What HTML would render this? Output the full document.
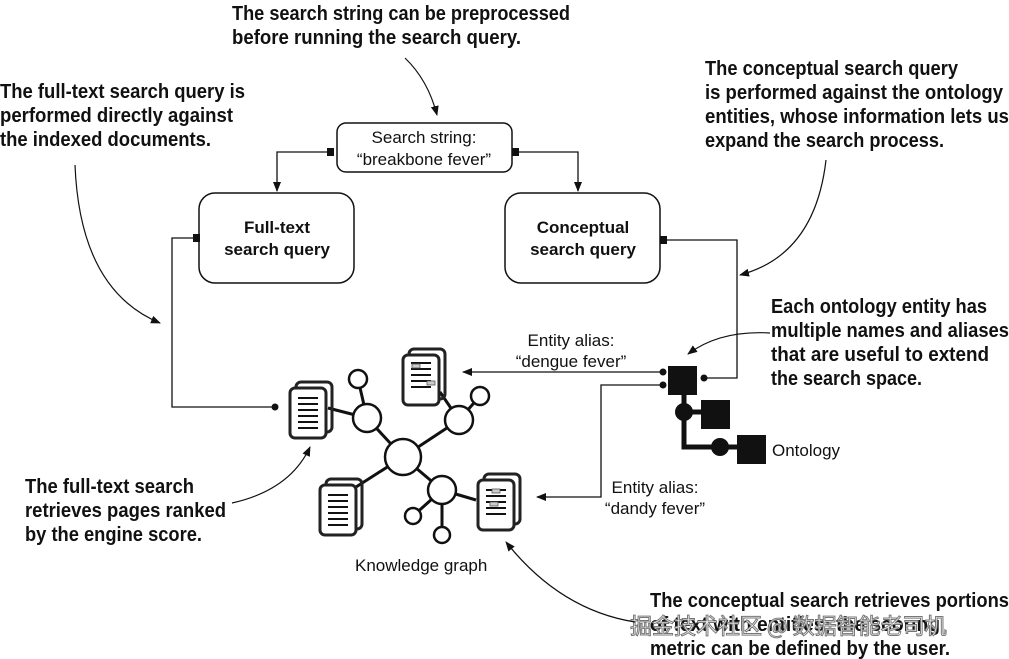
<!DOCTYPE html>
<html><head><meta charset="utf-8"><style>
html,body{margin:0;padding:0;background:#fff;width:1009px;height:659px;overflow:hidden}
svg{display:block}
.a{font-family:"Liberation Sans",sans-serif;font-weight:bold;font-size:20px;fill:#111}
.n{font-family:"Liberation Sans",sans-serif;font-size:17px;fill:#111}
.b{font-family:"Liberation Sans",sans-serif;font-size:17px;font-weight:bold;fill:#111}
</style></head><body>
<svg width="1009" height="659" viewBox="0 0 1009 659" xmlns="http://www.w3.org/2000/svg">
<defs>
<marker id="ar" markerWidth="10" markerHeight="8" refX="9" refY="4" orient="auto" markerUnits="userSpaceOnUse"><path d="M0,0 L10,4 L0,8 Z" fill="#111"/></marker>
<g id="doc"><rect x="6" y="-6" width="36" height="50" rx="5" fill="none" stroke="#222" stroke-width="3"/><rect x="0" y="0" width="36" height="50" rx="5" fill="#fff" stroke="#222" stroke-width="3"/></g>
</defs>
<!-- annotations -->
<g class="a">
<text x="232" y="20" textLength="338" lengthAdjust="spacingAndGlyphs">The search string can be preprocessed</text>
<text x="232" y="44" textLength="289" lengthAdjust="spacingAndGlyphs">before running the search query.</text>
<text x="0" y="98" textLength="245" lengthAdjust="spacingAndGlyphs">The full-text search query is</text>
<text x="0" y="122" textLength="233" lengthAdjust="spacingAndGlyphs">performed directly against</text>
<text x="0" y="146" textLength="211" lengthAdjust="spacingAndGlyphs">the indexed documents.</text>
<text x="705" y="75" textLength="253" lengthAdjust="spacingAndGlyphs">The conceptual search query</text>
<text x="705" y="99" textLength="298" lengthAdjust="spacingAndGlyphs">is performed against the ontology</text>
<text x="705" y="123" textLength="304" lengthAdjust="spacingAndGlyphs">entities, whose information lets us</text>
<text x="705" y="147" textLength="239" lengthAdjust="spacingAndGlyphs">expand the search process.</text>
<text x="771" y="313" textLength="216" lengthAdjust="spacingAndGlyphs">Each ontology entity has</text>
<text x="771" y="337" textLength="238" lengthAdjust="spacingAndGlyphs">multiple names and aliases</text>
<text x="771" y="361" textLength="218" lengthAdjust="spacingAndGlyphs">that are useful to extend</text>
<text x="771" y="385" textLength="151" lengthAdjust="spacingAndGlyphs">the search space.</text>
<text x="25" y="493" textLength="169" lengthAdjust="spacingAndGlyphs">The full-text search</text>
<text x="25" y="517" textLength="201" lengthAdjust="spacingAndGlyphs">retrieves pages ranked</text>
<text x="25" y="541" textLength="177" lengthAdjust="spacingAndGlyphs">by the engine score.</text>
<text x="650" y="607" textLength="359" lengthAdjust="spacingAndGlyphs">The conceptual search retrieves portions</text>
<text x="650" y="631" textLength="290" lengthAdjust="spacingAndGlyphs">of text with entities; the scoring</text>
<text x="650" y="655" textLength="300" lengthAdjust="spacingAndGlyphs">metric can be defined by the user.</text>
</g>
<text x="630" y="634" style="font-family:'Noto Sans CJK SC',sans-serif;font-size:22px;fill:#fff;stroke:#777;stroke-width:1">掘金技术社区 @ 数据智能老司机</text>
<!-- curved arrows -->
<g fill="none" stroke="#111" stroke-width="1.2">
<path d="M405,58 Q428,80 437,115" marker-end="url(#ar)"/>
<path d="M75,165 Q80,290 160,323" marker-end="url(#ar)"/>
<path d="M826,160 Q815,255 740,275" marker-end="url(#ar)"/>
<path d="M770,333 Q720,330 688,354" marker-end="url(#ar)"/>
<path d="M232,503 Q290,490 310,447" marker-end="url(#ar)"/>
<path d="M635,622 Q560,610 506,542" marker-end="url(#ar)"/>
</g>
<!-- boxes -->
<rect x="337" y="123" width="175" height="49" rx="9" fill="#fff" stroke="#111" stroke-width="1.5"/>
<text class="n" x="424" y="143" text-anchor="middle">Search string:</text>
<text class="n" x="424" y="165" text-anchor="middle">“breakbone fever”</text>
<rect x="199" y="193" width="155" height="90" rx="16" fill="#fff" stroke="#111" stroke-width="1.5"/>
<text class="b" x="277" y="233" text-anchor="middle">Full-text</text>
<text class="b" x="277" y="255" text-anchor="middle">search query</text>
<rect x="505" y="193" width="155" height="90" rx="16" fill="#fff" stroke="#111" stroke-width="1.5"/>
<text class="b" x="583" y="233" text-anchor="middle">Conceptual</text>
<text class="b" x="583" y="255" text-anchor="middle">search query</text>
<!-- connectors -->
<g fill="none" stroke="#111" stroke-width="1.3">
<path d="M330,152 H277 V191" marker-end="url(#ar)"/>
<path d="M515,152 H578 V191" marker-end="url(#ar)"/>
<path d="M193,238 H172 V407 H275"/>
<path d="M665,240 H737 V378 H704"/>
<path d="M663,372 H463" marker-end="url(#ar)"/>
<path d="M663,385 H601 V497 H537" marker-end="url(#ar)"/>
</g>
<rect x="327" y="148" width="7" height="8" fill="#111"/>
<rect x="512" y="148" width="7" height="8" fill="#111"/>
<rect x="193" y="234" width="7" height="8" fill="#111"/>
<rect x="660" y="236" width="7" height="8" fill="#111"/>
<circle cx="275" cy="407" r="3.5" fill="#111"/>
<circle cx="704" cy="378" r="3.5" fill="#111"/>
<circle cx="663" cy="372" r="3.5" fill="#111"/>
<circle cx="663" cy="385" r="3.5" fill="#111"/>
<text class="n" x="571" y="346" text-anchor="middle">Entity alias:</text>
<text class="n" x="571" y="367" text-anchor="middle">“dengue fever”</text>
<text class="n" x="655" y="493" text-anchor="middle">Entity alias:</text>
<text class="n" x="655" y="514" text-anchor="middle">“dandy fever”</text>
<!-- ontology -->
<path d="M684,380 V412 H715 M684,412 V447 H750" stroke="#111" stroke-width="5" fill="none"/>
<rect x="668" y="366" width="29" height="29" fill="#111"/>
<rect x="701" y="400" width="29" height="29" fill="#111"/>
<rect x="737" y="435" width="29" height="29" fill="#111"/>
<circle cx="684" cy="412" r="9" fill="#111"/>
<circle cx="720" cy="447" r="9" fill="#111"/>
<text class="n" x="772" y="456">Ontology</text>
<!-- graph -->
<g stroke="#111" stroke-width="3" fill="none">
<path d="M403,457 L367,418 L358,379 M367,418 L328,408 M403,457 L459,420 L480,396 M459,420 L440,392 M403,457 L442,490 L413,516 M442,490 L442,535 M442,490 L476,500 M403,457 L356,487"/>
</g>
<g fill="#fff" stroke="#111" stroke-width="2.5">
<circle cx="403" cy="457" r="18"/>
<circle cx="367" cy="418" r="14"/>
<circle cx="358" cy="379" r="9"/>
<circle cx="459" cy="420" r="14"/>
<circle cx="480" cy="396" r="9"/>
<circle cx="442" cy="490" r="14"/>
<circle cx="413" cy="516" r="8"/>
<circle cx="442" cy="535" r="8"/>
</g>
<use href="#doc" x="290" y="388"/>
<use href="#doc" x="403" y="355"/>
<use href="#doc" x="320" y="485"/>
<use href="#doc" x="478" y="480"/>
<g stroke="#111" stroke-width="2">
<path d="M298,398h20M298,404h20M298,410h20M298,416h20M298,422h20M298,428h20"/>
<path d="M328,495h20M328,501h20M328,507h20M328,513h20M328,519h20M328,525h20"/>
<path d="M411,363h20M411,369h20M411,375h20M411,381h20M411,387h20"/>
<path d="M486,490h20M486,496h20M486,502h20M486,508h20M486,514h20"/>
</g>
<rect x="412" y="364" width="8" height="4" fill="#ccc" stroke="#555" stroke-width="0.8"/>
<rect x="427" y="381" width="8" height="4" fill="#ccc" stroke="#555" stroke-width="0.8"/>
<rect x="492" y="489" width="8" height="4" fill="#ccc" stroke="#555" stroke-width="0.8"/>
<rect x="490" y="502" width="8" height="4" fill="#ccc" stroke="#555" stroke-width="0.8"/>
<text class="n" x="355" y="571">Knowledge graph</text>
</svg>
</body></html>
